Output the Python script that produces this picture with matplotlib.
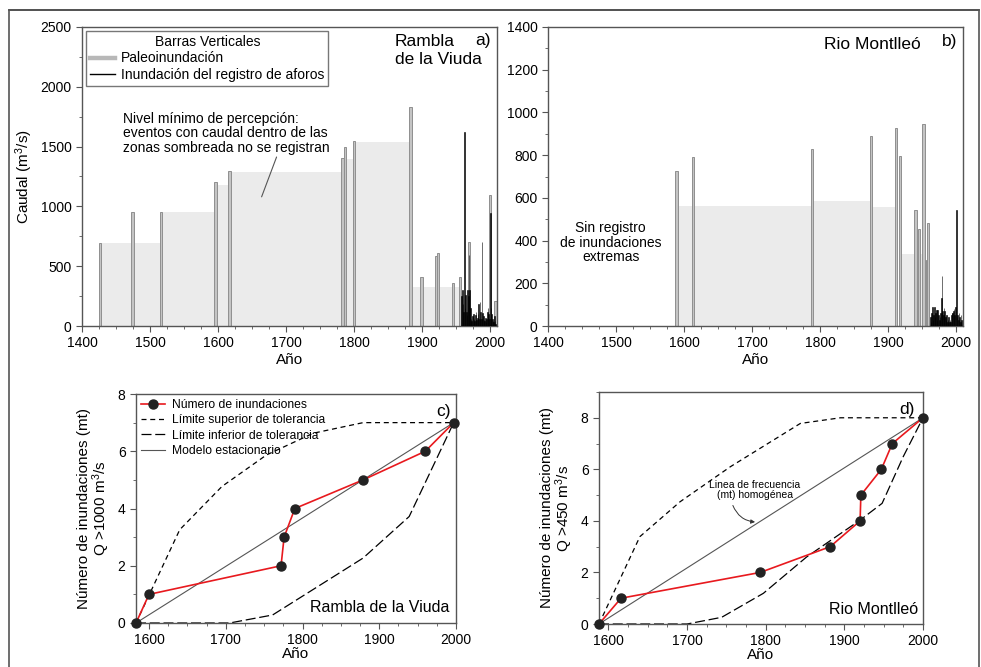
import matplotlib
matplotlib.use('Agg')
import matplotlib.pyplot as plt
from matplotlib.lines import Line2D
from matplotlib.ticker import MultipleLocator

plt.rcParams['font.family'] = ['Liberation Sans', 'DejaVu Sans']
plt.rcParams['mathtext.default'] = 'regular'

# ---- panel a: Rambla de la Viuda ----
a_paleo_year = [1426, 1474, 1516, 1596, 1617, 1783, 1787, 1800, 1883, 1899, 1920, 1923, 1945, 1956, 1969, 2000, 2008]
a_paleo_q = [695, 950, 950, 1200, 1300, 1405, 1500, 1550, 1830, 410, 585, 610, 357, 407, 702, 1095, 209]
a_zone_start = [1426, 1516, 1596, 1617, 1783, 1800, 1883]
a_zone_end = [1516, 1596, 1617, 1783, 1800, 1883, 1957]
a_zone_level = [690, 950, 1180, 1285, 1400, 1540, 325]
a_gauge_year = list(range(1958, 2009))
a_gauge_q = [250, 300, 180, 120, 1620, 150, 260, 120, 90, 300, 250, 590, 300, 150, 60, 40, 80,
             100, 60, 40, 90, 120, 50, 70, 100, 180, 60, 200, 120, 60, 700, 110, 80, 50, 40,
             70, 30, 60, 120, 150, 100, 60, 945, 150, 100, 60, 40, 30, 80, 40, 20]

# ---- panel b: Rio Montlleo ----
b_paleo_year = [1589, 1613, 1788, 1875, 1912, 1917, 1940, 1945, 1952, 1957, 1959]
b_paleo_q = [728, 789, 831, 888, 927, 797, 541, 452, 944, 310, 483]
b_zone_start = [1589, 1788, 1875, 1917]
b_zone_end = [1788, 1875, 1912, 1955]
b_zone_level = [560, 587, 555, 336]
b_gauge_year = list(range(1962, 2009))
b_gauge_q = [40, 20, 60, 90, 30, 50, 90, 40, 60, 75, 30, 75, 50, 30, 40, 60, 130, 235, 70, 50,
             85, 70, 40, 30, 50, 20, 30, 40, 20, 30, 20, 50, 60, 60, 70, 80, 50, 90, 545, 40,
             50, 30, 60, 40, 20, 50, 30]

# ---- panel c ----
c_year = [1583, 1600, 1772, 1776, 1790, 1879, 1960, 1997]
c_n = [0, 1, 2, 3, 4, 5, 6, 7]
c_up_year = [1583, 1640, 1695, 1753, 1814, 1879, 1997]
c_up_n = [0, 3.26, 4.77, 5.87, 6.63, 7.0, 7.0]
c_lo_year = [1583, 1705, 1761, 1879, 1939, 1997]
c_lo_n = [0, 0, 0.28, 2.27, 3.72, 7.0]

# ---- panel d ----
d_year = [1588, 1616, 1793, 1882, 1920, 1921, 1947, 1961, 2000]
d_n = [0, 1, 2, 3, 4, 5, 6, 7, 8]
d_up_year = [1588, 1640, 1691, 1755, 1844, 1895, 2000]
d_up_n = [0, 3.39, 4.74, 6.1, 7.78, 8.0, 8.0]
d_lo_year = [1588, 1700, 1744, 1797, 1852, 1920, 1948, 1975, 2000]
d_lo_n = [0, 0, 0.26, 1.19, 2.6, 4.03, 4.68, 6.5, 8.0]

W, H = 981, 667
fig = plt.figure(figsize=(W / 100, H / 100), dpi=100)


def box(l, t, r, b):
    return [l / W, 1 - b / H, (r - l) / W, (b - t) / H]


ax_a = fig.add_axes(box(82, 27, 497, 326))
ax_b = fig.add_axes(box(548, 27, 963, 326))
ax_c = fig.add_axes(box(136, 394, 456, 623))
ax_d = fig.add_axes(box(599, 392, 923, 624))

zone_col = '#ebebeb'
paleo_face = '#c4c4c4'
paleo_edge = '#8f8f8f'


def style(ax):
    for s in ax.spines.values():
        s.set_color('#555555')
        s.set_linewidth(1.0)
    ax.tick_params(which='both', direction='out', labelsize=10, color='#555555')
    ax.tick_params(which='major', length=4)
    ax.tick_params(which='minor', length=2.5)


def river(ax, zs, ze, zl, py, pq, gy, gq):
    ax.bar(zs, zl, width=[e - s for s, e in zip(zs, ze)], align='edge', color=zone_col, zorder=1)
    ax.bar(py, pq, width=3.4, color=paleo_face, edgecolor=paleo_edge, linewidth=0.7, zorder=2)
    ax.bar(gy, gq, width=1.0, color='black', edgecolor='black', linewidth=0.4, zorder=3)
    ax.set_xlim(1400, 2010)
    ax.xaxis.set_major_locator(MultipleLocator(100))
    ax.xaxis.set_minor_locator(MultipleLocator(25))
    ax.set_xlabel('Año', fontsize=11, labelpad=2)
    style(ax)


river(ax_a, a_zone_start, a_zone_end, a_zone_level, a_paleo_year, a_paleo_q, a_gauge_year, a_gauge_q)
ax_a.set_ylim(0, 2500)
ax_a.yaxis.set_major_locator(MultipleLocator(500))
ax_a.yaxis.set_minor_locator(MultipleLocator(250))
ax_a.set_ylabel('Caudal (m$^3$/s)', fontsize=11)
ax_a.text(0.754, 0.975, 'Rambla', transform=ax_a.transAxes, fontsize=12.5, ha='left', va='top')
ax_a.text(0.754, 0.915, 'de la Viuda', transform=ax_a.transAxes, fontsize=12.5, ha='left', va='top')
ax_a.text(0.985, 0.98, 'a)', transform=ax_a.transAxes, fontsize=12.5, ha='right', va='top')
ax_a.text(1460, 1613, 'Nivel mínimo de percepción:\neventos con caudal dentro de las\nzonas sombreada no se registran',
          fontsize=10, ha='left', va='center', linespacing=1.05)
ax_a.annotate('', xy=(1664, 1080), xytext=(1686, 1413),
              arrowprops=dict(arrowstyle='-', color='#555555', lw=0.8, shrinkA=0, shrinkB=0))
leg_h = [Line2D([], [], color='#b8b8b8', lw=3.2), Line2D([], [], color='black', lw=1.0)]
leg = ax_a.legend(leg_h, ['Paleoinundación', 'Inundación del registro de aforos'],
                  title='Barras Verticales', loc='upper left', fontsize=10, title_fontsize=10,
                  fancybox=False, edgecolor='#777777', framealpha=1, borderaxespad=0.3,
                  handlelength=1.8, handletextpad=0.4, borderpad=0.3, labelspacing=0.15)

river(ax_b, b_zone_start, b_zone_end, b_zone_level, b_paleo_year, b_paleo_q, b_gauge_year, b_gauge_q)
ax_b.set_ylim(0, 1400)
ax_b.yaxis.set_major_locator(MultipleLocator(200))
ax_b.yaxis.set_minor_locator(MultipleLocator(100))
ax_b.text(0.664, 0.965, 'Rio Montlleó', transform=ax_b.transAxes, fontsize=12.5, ha='left', va='top')
ax_b.text(0.987, 0.975, 'b)', transform=ax_b.transAxes, fontsize=12.5, ha='right', va='top')
ax_b.text(1492, 390, 'Sin registro\nde inundaciones\nextremas', fontsize=10, ha='center', va='center',
          linespacing=1.05)


def count_panel(ax, yr, n, uy, un, ly, ln, ylab):
    ax.plot(uy, un, color='black', lw=0.9, dashes=(4, 3), label='Límite superior de tolerancia')
    ax.plot(ly, ln, color='black', lw=0.9, dashes=(8, 3), label='Límite inferior de tolerancia')
    ax.plot([yr[0], yr[-1]], [n[0], n[-1]], color='#555555', lw=0.8, label='Modelo estacionario')
    ax.plot(yr, n, color='#e8191e', lw=1.2, marker='o', ms=6.5, mfc='#222222', mec='#222222',
            label='Número de inundaciones', zorder=5, clip_on=False)
    ax.xaxis.set_major_locator(MultipleLocator(100))
    ax.xaxis.set_minor_locator(MultipleLocator(25))
    ax.yaxis.set_major_locator(MultipleLocator(2))
    ax.yaxis.set_minor_locator(MultipleLocator(1))
    ax.set_xlabel('Año', fontsize=11, labelpad=0)
    ax.set_ylabel(ylab, fontsize=11, linespacing=1.0)
    style(ax)


count_panel(ax_c, c_year, c_n, c_up_year, c_up_n, c_lo_year, c_lo_n,
            'Número de inundaciones (mt)\nQ >1000 m$^3$/s')
ax_c.set_xlim(1583, 2000)
ax_c.set_ylim(0, 8)
h, l = ax_c.get_legend_handles_labels()
order = [3, 0, 1, 2]
ax_c.legend([h[i] for i in order], [l[i] for i in order], loc='upper left', frameon=False,
            fontsize=8.7, handlelength=2.0, handletextpad=0.6, labelspacing=0.28,
            borderaxespad=0.2, borderpad=0.2)
ax_c.text(0.985, 0.955, 'c)', transform=ax_c.transAxes, fontsize=12.5, ha='right', va='top')
ax_c.text(0.98, 0.035, 'Rambla de la Viuda', transform=ax_c.transAxes, fontsize=11.5,
          ha='right', va='bottom')

count_panel(ax_d, d_year, d_n, d_up_year, d_up_n, d_lo_year, d_lo_n,
            'Número de inundaciones (mt)\nQ >450 m$^3$/s')
ax_d.set_xlim(1588, 2000)
ax_d.set_ylim(0, 9)
ax_d.text(0.975, 0.955, 'd)', transform=ax_d.transAxes, fontsize=12.5, ha='right', va='top')
ax_d.text(0.985, 0.03, 'Rio Montlleó', transform=ax_d.transAxes, fontsize=11.5,
          ha='right', va='bottom')
ax_d.text(1786, 5.2, 'Linea de frecuencia\n(mt) homogénea', fontsize=7.5, ha='center',
          va='center', linespacing=1.1)
ax_d.annotate('', xy=(1790, 3.95), xytext=(1757, 4.7),
              arrowprops=dict(arrowstyle='-|>', color='#333333', lw=0.7, mutation_scale=6,
                              connectionstyle='arc3,rad=0.35'))

# outer frame
fig.add_artist(Line2D([9 / W, 979 / W], [1 - 10 / H, 1 - 10 / H], color='#333333', lw=1.2))
fig.add_artist(Line2D([9 / W, 9 / W], [0, 1 - 10 / H], color='#555555', lw=1.2))
fig.add_artist(Line2D([979 / W, 979 / W], [0, 1 - 10 / H], color='#555555', lw=1.2))

fig.savefig('out.png', dpi=100)
